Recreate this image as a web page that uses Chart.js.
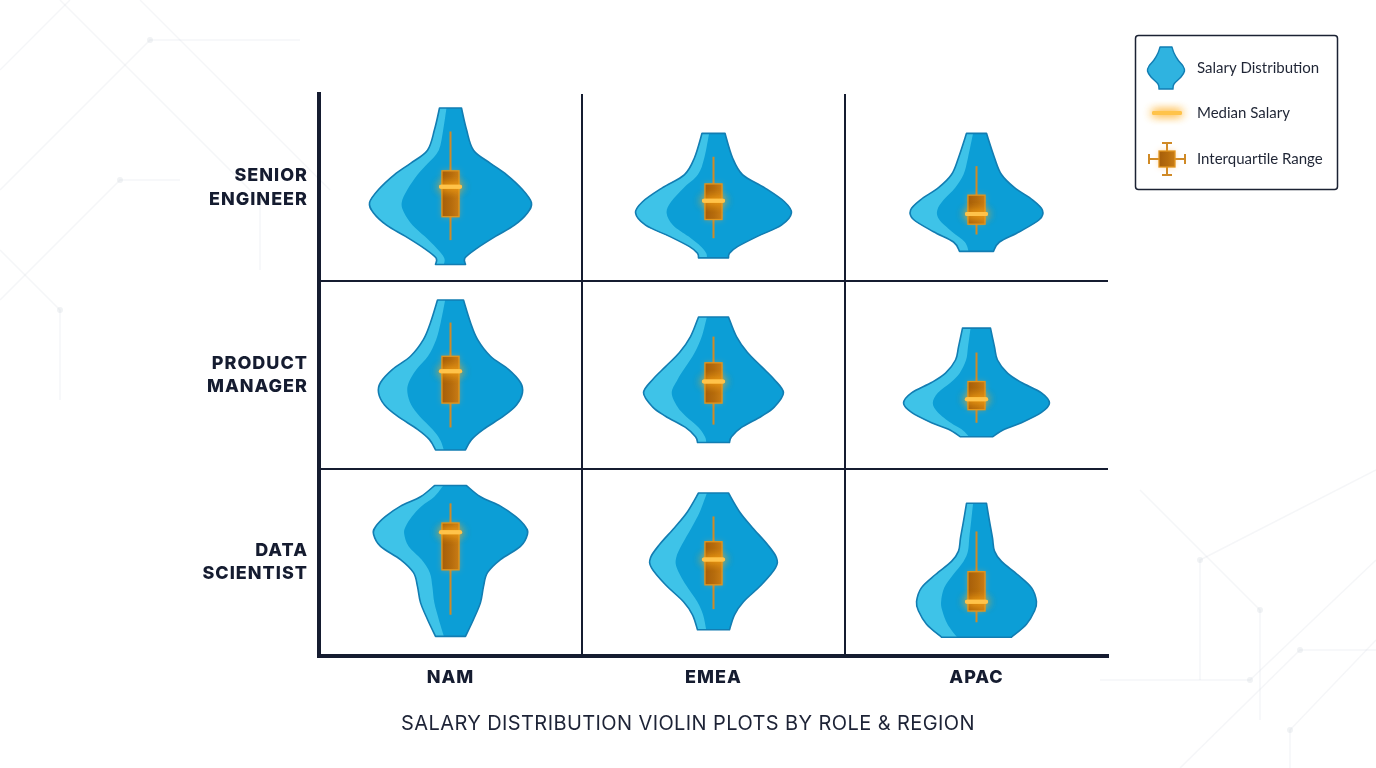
<!DOCTYPE html>
<html>
<head>
<meta charset="utf-8">
<title>Salary Distribution Violin Plots</title>
<script src="https://cdn.jsdelivr.net/npm/chart.js@4.4.1/dist/chart.umd.min.js"></script>
<style>
  html, body { margin: 0; padding: 0; background: #ffffff; }
  #violinChart { display: block; }
</style>
</head>
<body>
<canvas id="violinChart" width="1376" height="768"></canvas>
<script>
// Categories
const REGIONS = ['NAM', 'EMEA', 'APAC'];
const ROLES = [['SENIOR', 'ENGINEER'], ['PRODUCT', 'MANAGER'], ['DATA', 'SCIENTIST']];
const TITLE = 'SALARY DISTRIBUTION VIOLIN PLOTS BY ROLE & REGION';

// Salary band covered by each cell ($k)
const SAL_LO = 40;
const SAL_HI = 240;

// Violin profiles: salary levels ($k, high -> low) and relative density
const SE_NAM_SAL = [225, 202, 180, 166, 154, 138, 124, 113, 100, 88, 75, 65, 58];
const SE_NAM_DEN = [0.11, 0.16, 0.23, 0.40, 0.56, 0.72, 0.81, 0.77, 0.64, 0.45, 0.26, 0.145, 0.15];
const SE_EMEA_SAL = [198, 172, 154, 140, 125, 113, 100, 88, 77, 70, 65];
const SE_EMEA_DEN = [0.115, 0.19, 0.29, 0.51, 0.71, 0.78, 0.68, 0.44, 0.24, 0.16, 0.15];
const SE_APAC_SAL = [198, 172, 154, 140, 127, 116, 106, 93, 82, 72];
const SE_APAC_DEN = [0.10, 0.18, 0.25, 0.38, 0.56, 0.66, 0.63, 0.43, 0.23, 0.17];

const PM_NAM_SAL = [220, 196, 178, 160, 146, 132, 121, 108, 96, 82, 71, 60];
const PM_NAM_DEN = [0.13, 0.20, 0.27, 0.40, 0.58, 0.70, 0.72, 0.66, 0.53, 0.33, 0.21, 0.15];
const PM_EMEA_SAL = [202, 181, 164, 149, 135, 121, 106, 96, 84, 74, 68];
const PM_EMEA_DEN = [0.15, 0.23, 0.34, 0.48, 0.61, 0.70, 0.61, 0.48, 0.28, 0.18, 0.16];
const PM_APAC_SAL = [190, 170, 156, 142, 132, 121, 110, 100, 89, 82, 74];
const PM_APAC_DEN = [0.14, 0.18, 0.21, 0.31, 0.45, 0.65, 0.73, 0.65, 0.45, 0.28, 0.16];

const DS_NAM_SAL = [222, 210, 200, 189, 178, 170, 157, 143, 129, 114, 97, 79, 61];
const DS_NAM_DEN = [0.16, 0.30, 0.50, 0.65, 0.75, 0.77, 0.70, 0.50, 0.37, 0.33, 0.30, 0.23, 0.15];
const DS_EMEA_SAL = [214, 194, 177, 159, 145, 134, 116, 98, 84, 68];
const DS_EMEA_DEN = [0.15, 0.26, 0.39, 0.54, 0.63, 0.62, 0.48, 0.30, 0.21, 0.16];
const DS_APAC_SAL = [203, 184, 166, 152, 141, 127, 113, 98, 88, 74, 60];
const DS_APAC_DEN = [0.10, 0.13, 0.16, 0.18, 0.25, 0.41, 0.55, 0.60, 0.58, 0.50, 0.35];

// Box stats ($k): [min, q1, median, q3, max]
const SE_NAM_BOX = [84, 109, 141, 158, 200];
const SE_EMEA_BOX = [86, 106, 126, 144, 173];
const SE_APAC_BOX = [90, 101, 112, 132, 163];
const PM_NAM_BOX = [84, 110, 144, 160, 196];
const PM_EMEA_BOX = [87, 110, 133, 153, 181];
const PM_APAC_BOX = [89, 103, 114, 133, 164];
const DS_NAM_BOX = [84, 132, 172, 182, 203];
const DS_EMEA_BOX = [90, 116, 143, 162, 189];
const DS_APAC_BOX = [76, 88, 98, 130, 173];

const VIOLINS = [
    { row: 0, col: 0, sal: SE_NAM_SAL, den: SE_NAM_DEN, box: SE_NAM_BOX },
    { row: 0, col: 1, sal: SE_EMEA_SAL, den: SE_EMEA_DEN, box: SE_EMEA_BOX },
    { row: 0, col: 2, sal: SE_APAC_SAL, den: SE_APAC_DEN, box: SE_APAC_BOX },
    { row: 1, col: 0, sal: PM_NAM_SAL, den: PM_NAM_DEN, box: PM_NAM_BOX },
    { row: 1, col: 1, sal: PM_EMEA_SAL, den: PM_EMEA_DEN, box: PM_EMEA_BOX },
    { row: 1, col: 2, sal: PM_APAC_SAL, den: PM_APAC_DEN, box: PM_APAC_BOX },
    { row: 2, col: 0, sal: DS_NAM_SAL, den: DS_NAM_DEN, box: DS_NAM_BOX },
    { row: 2, col: 1, sal: DS_EMEA_SAL, den: DS_EMEA_DEN, box: DS_EMEA_BOX },
    { row: 2, col: 2, sal: DS_APAC_SAL, den: DS_APAC_DEN, box: DS_APAC_BOX }
];

// Styling
const INK = '#151c30';
const VIOLIN_DARK = '#0c9ed6';
const VIOLIN_LIGHT = '#3ec3e8';
const VIOLIN_EDGE = '#127db2';
const DENSITY_SPAN = 0.38;  // density 1.0 -> fraction of column width (half-width)
const BOX_W = 0.065;        // box width as fraction of column width

// Catmull-Rom curve through points
function smoothSide(ctx, pts, move) {
    if (move) ctx.moveTo(pts[0][0], pts[0][1]);
    else ctx.lineTo(pts[0][0], pts[0][1]);
    for (let i = 0; i < pts.length - 1; i++) {
        const p0 = pts[i - 1] || pts[i];
        const p1 = pts[i];
        const p2 = pts[i + 1];
        const p3 = pts[i + 2] || p2;
        ctx.bezierCurveTo(
            p1[0] + (p2[0] - p0[0]) / 6, p1[1] + (p2[1] - p0[1]) / 6,
            p2[0] - (p3[0] - p1[0]) / 6, p2[1] - (p3[1] - p1[1]) / 6,
            p2[0], p2[1]);
    }
}

function outlinePath(ctx, cx, ys, ws) {
    const right = ys.map((y, i) => [cx + ws[i], y]);
    const left = ys.map((y, i) => [cx - ws[i], y]).reverse();
    ctx.beginPath();
    ctx.moveTo(cx - ws[0], ys[0]);
    smoothSide(ctx, right, false);
    smoothSide(ctx, left, false);
    ctx.closePath();
}

function drawViolinShape(ctx, cx, ys, ws, edgeWidth, withBand) {
    ctx.save();
    outlinePath(ctx, cx, ys, ws);
    ctx.fillStyle = withBand ? VIOLIN_DARK : '#2fb3e0';
    ctx.fill();
    if (withBand) {
        ctx.clip();
        // lighter band on the left flank
        const outerLeft = ys.map((y, i) => [cx - ws[i] - 2, y]);
        const innerLeft = ys.map((y, i) => [cx - Math.max(ws[i] * 0.64 - 3, 1), y]).reverse();
        ctx.beginPath();
        smoothSide(ctx, outerLeft, true);
        smoothSide(ctx, innerLeft, false);
        ctx.closePath();
        ctx.fillStyle = VIOLIN_LIGHT;
        ctx.fill();
    }
    ctx.restore();

    ctx.save();
    outlinePath(ctx, cx, ys, ws);
    ctx.lineWidth = edgeWidth;
    ctx.lineJoin = 'round';
    ctx.strokeStyle = VIOLIN_EDGE;
    ctx.stroke();
    ctx.restore();
}

function drawMedianLine(ctx, x1, x2, y) {
    ctx.save();
    ctx.lineCap = 'round';
    ctx.strokeStyle = '#ffc34a';
    ctx.lineWidth = 4;
    ctx.shadowColor = 'rgba(255, 168, 20, 1)';
    ctx.shadowBlur = 10;
    ctx.beginPath();
    ctx.moveTo(x1, y);
    ctx.lineTo(x2, y);
    ctx.stroke();
    ctx.stroke();
    ctx.restore();
}

function drawBox(ctx, x1, x2, yTop, yBot) {
    ctx.save();
    const g = ctx.createLinearGradient(x1, 0, x2, 0);
    g.addColorStop(0, '#a65e0a');
    g.addColorStop(0.55, '#b66c0d');
    g.addColorStop(1, '#c97c15');
    ctx.shadowColor = 'rgba(255, 160, 40, 0.45)';
    ctx.shadowBlur = 6;
    ctx.fillStyle = g;
    ctx.fillRect(x1, yTop, x2 - x1, yBot - yTop);
    ctx.shadowBlur = 0;
    ctx.strokeStyle = '#e2961f';
    ctx.lineWidth = 1.3;
    ctx.strokeRect(x1, yTop, x2 - x1, yBot - yTop);
    ctx.restore();
}

const backdropPlugin = {
    id: 'backdrop',
    beforeDraw(chart) {
        const { ctx, width, height } = chart;
        ctx.save();
        ctx.fillStyle = '#ffffff';
        ctx.fillRect(0, 0, width, height);
        ctx.strokeStyle = 'rgba(205, 211, 219, 0.2)';
        ctx.lineWidth = 1.5;
        const lines = [
            [[0, 70], [70, 0]], [[0, 190], [150, 40], [300, 40]], [[60, 0], [260, 200], [260, 270]],
            [[0, 300], [120, 180], [180, 180]], [[140, 0], [330, 190]], [[0, 250], [60, 310], [60, 400]],
            [[width, 470], [1200, 560], [1200, 680]], [[width, 560], [1250, 680], [1100, 680]],
            [[width, 640], [1290, 730], [1290, height]], [[1140, 490], [1260, 610], [1260, 720]],
            [[1180, height], [1300, 650], [width, 650]]
        ];
        lines.forEach(pl => {
            ctx.beginPath();
            pl.forEach((p, i) => i ? ctx.lineTo(p[0], p[1]) : ctx.moveTo(p[0], p[1]));
            ctx.stroke();
        });
        ctx.fillStyle = 'rgba(205, 211, 219, 0.3)';
        [[150, 40], [260, 200], [120, 180], [60, 310], [1200, 560], [1250, 680], [1290, 730], [1260, 610], [1300, 650]]
            .forEach(p => { ctx.beginPath(); ctx.arc(p[0], p[1], 3, 0, Math.PI * 2); ctx.fill(); });
        ctx.restore();
        // wider tracking for the axis labels
        ctx.letterSpacing = '1px';
    },
    beforeDatasetsDraw(chart) {
        chart.ctx.letterSpacing = '0px';
    }
};

const violinPlugin = {
    id: 'violins',
    afterDatasetsDraw(chart) {
        const { ctx, scales: { x, y } } = chart;
        const colW = x.getPixelForValue(1) - x.getPixelForValue(0);
        const rowH = y.getPixelForValue(1) - y.getPixelForValue(0);
        const mid = (SAL_LO + SAL_HI) / 2;

        VIOLINS.forEach(v => {
            const cx = x.getPixelForValue(v.col);
            const cy = y.getPixelForValue(v.row);
            const py = s => cy + (mid - s) / (SAL_HI - SAL_LO) * rowH;
            const ys = v.sal.map(py);
            const ws = v.den.map(d => d * DENSITY_SPAN * colW);
            drawViolinShape(ctx, cx, ys, ws, 1.6, true);

            const [mn, q1, med, q3, mx] = v.box;
            const half = BOX_W * colW / 2;
            // whisker
            ctx.save();
            ctx.strokeStyle = '#d08a26';
            ctx.lineWidth = 2;
            ctx.beginPath();
            ctx.moveTo(cx, py(mx));
            ctx.lineTo(cx, py(mn));
            ctx.stroke();
            ctx.restore();
            drawBox(ctx, cx - half, cx + half, py(q3), py(q1));
            drawMedianLine(ctx, cx - half - 1, cx + half + 1, py(med));
        });
    },
    afterDraw(chart) {
        const { ctx, width } = chart;

        // chart title, centred on the page
        ctx.save();
        ctx.letterSpacing = '0.4px';
        ctx.fillStyle = '#1d2336';
        ctx.font = '20px Inter, "DejaVu Sans", sans-serif';
        ctx.textAlign = 'center';
        ctx.textBaseline = 'middle';
        ctx.fillText(TITLE, width / 2, chart.chartArea.bottom + 68);
        ctx.restore();

        // legend panel, top right
        const lx = width - 241;
        const ly = 35;
        ctx.save();
        ctx.fillStyle = '#ffffff';
        ctx.strokeStyle = '#1b2233';
        ctx.lineWidth = 1.5;
        ctx.beginPath();
        ctx.roundRect(lx + 0.5, ly + 0.5, 202, 154, 3);
        ctx.fill();
        ctx.stroke();

        // violin icon
        const icx = lx + 31;
        const iys = [47, 53, 60, 66, 71, 77, 84, 89];
        const iws = [6, 8, 12, 17, 18.5, 15, 8, 7];
        drawViolinShape(ctx, icx, iys, iws, 1.4, false);

        // median icon
        drawMedianLine(ctx, lx + 19, lx + 45, ly + 78);

        // IQR icon
        const bx = lx + 32;
        const by = ly + 124;
        ctx.strokeStyle = '#d08a26';
        ctx.lineWidth = 2;
        ctx.beginPath();
        ctx.moveTo(bx - 18, by); ctx.lineTo(bx + 18, by);
        ctx.moveTo(bx, by - 16); ctx.lineTo(bx, by + 16);
        ctx.moveTo(bx - 18, by - 5); ctx.lineTo(bx - 18, by + 5);
        ctx.moveTo(bx + 18, by - 5); ctx.lineTo(bx + 18, by + 5);
        ctx.moveTo(bx - 5, by - 16); ctx.lineTo(bx + 5, by - 16);
        ctx.moveTo(bx - 5, by + 16); ctx.lineTo(bx + 5, by + 16);
        ctx.stroke();
        drawBox(ctx, bx - 8, bx + 8, by - 8, by + 8);

        ctx.fillStyle = '#1f2535';
        ctx.font = '15px Lato, "Open Sans", sans-serif';
        ctx.textAlign = 'left';
        ctx.textBaseline = 'middle';
        ctx.fillText('Salary Distribution', lx + 62, ly + 33);
        ctx.fillText('Median Salary', lx + 62, ly + 78);
        ctx.fillText('Interquartile Range', lx + 62, ly + 124);
        ctx.restore();
    }
};

const labelFont = { family: 'Inter, "DejaVu Sans", sans-serif', size: 18, weight: '800', lineHeight: 1.3 };

new Chart(document.getElementById('violinChart'), {
    type: 'scatter',
    data: { datasets: [] },
    options: {
        responsive: false,
        animation: false,
        devicePixelRatio: 1,
        layout: { padding: { top: 94, right: 268, bottom: 56, left: 0 } },
        plugins: {
            legend: { display: false },
            tooltip: { enabled: false },
            title: { display: false }
        },
        scales: {
            x: {
                type: 'category',
                labels: REGIONS,
                offset: true,
                grid: {
                    offset: true,
                    drawTicks: false,
                    lineWidth: 2,
                    color: c => c.type === 'scale' ? 'rgba(0,0,0,0)' : INK
                },
                border: { color: INK, width: 4 },
                ticks: { color: INK, font: labelFont, padding: 10 },
                afterFit(scale) { scale.height = 56; }
            },
            y: {
                type: 'category',
                labels: ROLES,
                offset: true,
                grid: {
                    offset: true,
                    drawTicks: false,
                    lineWidth: 2,
                    color: c => c.index === 0 ? 'rgba(0,0,0,0)' : INK
                },
                border: { color: INK, width: 4 },
                ticks: { color: INK, font: labelFont, padding: 11 },
                afterFit(scale) { scale.width = 319; }
            }
        }
    },
    plugins: [backdropPlugin, violinPlugin]
});
</script>
</body>
</html>
